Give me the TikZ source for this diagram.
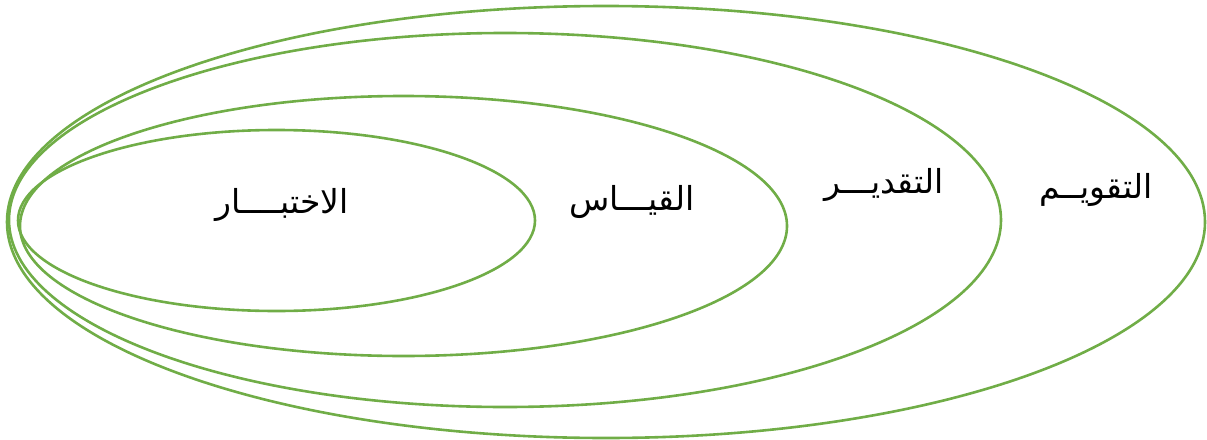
\documentclass[tikz,border=0pt]{standalone}
\usepackage{fontspec}
\newfontfamily\arabicfont[Script=Arabic]{DejaVu Sans}
\TeXXeTstate=1
\definecolor{ringgreen}{HTML}{70AD47}
\begin{document}
\begin{tikzpicture}[x=1pt,y=-1pt,
  ring/.style={draw=ringgreen,line width=2.6pt},
  lbl/.style={font=\arabicfont\fontsize{33}{38}\selectfont,anchor=base,inner sep=0pt}]
\useasboundingbox (0,0) rectangle (1207,439);
\draw[ring] (606,222) ellipse [x radius=599,y radius=216];
\draw[ring] (505,220) ellipse [x radius=496,y radius=187];
\draw[ring] (403.5,226) ellipse [x radius=383.5,y radius=130];
\draw[ring] (276.5,220.5) ellipse [x radius=258.5,y radius=90.5];
\node[lbl] (t1) at (1096,198) {\beginR التقويــم\endR};
\node[lbl] (t2) at (884,193) {\beginR التقديـــر\endR};
\node[lbl] (t3) at (632,210) {\beginR القيـــاس\endR};
\node[lbl] (t4) at (282,213) {\beginR الاختبــــار\endR};
\end{tikzpicture}
\end{document}
